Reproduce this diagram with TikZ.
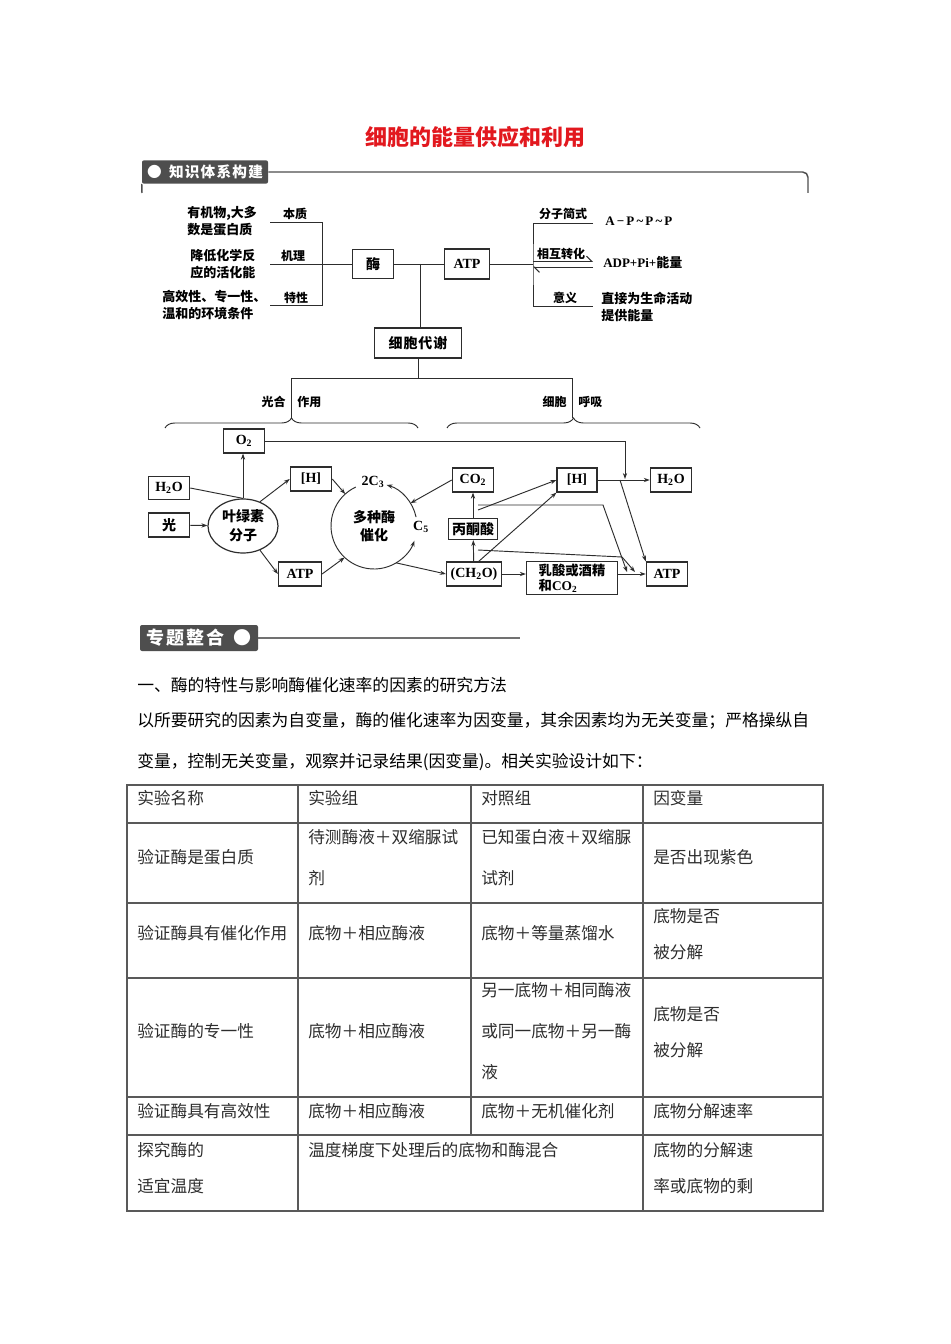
\documentclass[tikz,border=0pt]{standalone}
\usepackage{fontspec}
\setmainfont{Noto Sans CJK SC}
\newfontfamily\lat{Liberation Serif}
\usetikzlibrary{arrows.meta,shapes.geometric,decorations.pathreplacing}
\definecolor{titlered}{RGB}{226,24,30}
\definecolor{tabgray}{RGB}{78,78,78}
\definecolor{ink}{RGB}{45,45,45}

\begin{document}
\begin{tikzpicture}[x=0.75pt,y=-0.75pt,>={Stealth[length=4.5pt,width=3.2pt]}]
  \tikzstyle{B}=[draw=ink,line width=0.9pt,inner sep=0pt,font=\fontsize{10.5}{12}\selectfont\bfseries]
  \tikzstyle{sb}=[B,minimum width=31pt,minimum height=18pt]
  \tikzstyle{T}=[inner sep=0pt,font=\fontsize{9.75}{12.75}\selectfont\bfseries]
  \tikzstyle{L}=[inner sep=0pt,font=\fontsize{9}{11}\selectfont\bfseries]
  \tikzstyle{C}=[draw=ink,line width=0.7pt]
  \tikzstyle{hdr}=[fill=tabgray,text=white,inner sep=0pt,rounded corners=1.5pt]
  \tikzstyle{P}=[anchor=west,inner sep=0pt,font=\fontsize{12.6}{15}\selectfont]
  \tikzstyle{G}=[draw=black!65,line width=1pt]
  \tikzstyle{cell}=[anchor=west,inner sep=0pt,text=ink,align=left,font=\fontsize{12.5}{30.75}\selectfont]
  \tikzstyle{cellb}=[cell,font=\fontsize{12.5}{27}\selectfont]

  \fill[white] (0,0) rectangle (950,1344);
  \useasboundingbox (0,0) rectangle (950,1344);

  % title and first header
  \node[font=\fontsize{16.5}{20}\selectfont\bfseries,text=titlered] (title) at (475,137) {细胞的能量供应和利用};
  \node[hdr,minimum width=94.5pt,minimum height=17.5pt,font=\fontsize{11}{13}\selectfont\bfseries] (kb) at (205,172) {●\enspace\addfontfeature{LetterSpace=8}知识体系构建};
  \draw[draw=tabgray,line width=1.1pt,rounded corners=4pt] (kb.east) -- (808,172) -- (808,193);
  \draw[draw=tabgray,line width=1.1pt] (kb.south west) -- (142,193);

  % enzyme and ATP
  \node[T,anchor=west,align=left] (bz) at (187,221) {有机物,大多\\数是蛋白质};
  \node[T,anchor=west,align=left] (jl) at (190,264.5) {降低化学反\\应的活化能};
  \node[T,anchor=west,align=left] (tx) at (162,305.5) {高效性、专一性、\\温和的环境条件};
  \node[L] (l1) at (295,214) {本质};
  \node[L] (l2) at (293,256) {机理};
  \node[L] (l3) at (296,298) {特性};
  \coordinate (a1) at (270,222);
  \coordinate (a2) at (270,264);
  \coordinate (a3) at (270,305);
  \coordinate (a0) at (322,264);
  \node[B,minimum width=30.75pt,minimum height=21.75pt] (mei) at (373,264) {酶};
  \node[B,minimum width=33.75pt,minimum height=22.5pt] (atp1) at (467,264) {\lat ATP};
  \draw[C] (a1) -| (a0 |- a3) -- (a3);
  \draw[C] (a2) -- (mei.west);
  \draw[C] (mei) -- (atp1);
  \coordinate (j1) at (420,264);
  \node[B,minimum width=65.25pt,minimum height=22.5pt] (dx) at (418,343) {\addfontfeature{LetterSpace=6}细胞代谢};
  \draw[C] (j1) -- (j1 |- dx.north);

  \coordinate (r0) at (533,264);
  \coordinate (r1) at (593,223);
  \coordinate (r3) at (593,306);
  \coordinate (r2a) at (593,261.5);
  \coordinate (r2b) at (593,267);
  \draw[C] (atp1) -- (r0);
  \draw[C] (r1) -| (r0) |- (r3);
  \draw[C,-{Straight Barb[left,length=4pt]}] (r0 |- r2a) -- (r2a);
  \draw[C,-{Straight Barb[left,length=4pt]}] (r2b) -- (r0 |- r2b);
  \node[L] (fz) at (563,214) {分子简式};
  \node[L] (hz) at (561,254) {相互转化};
  \node[L] (yy) at (565,298) {意义};
  \node[T,anchor=west] (ap) at (605,221) {\lat A\,−\,P\,\textasciitilde\,P\,\textasciitilde\,P};
  \node[T,anchor=west] (adp) at (603,263) {{\lat ADP+Pi+}能量};
  \node[T,anchor=west,align=left] (yi) at (601,307) {直接为生命活动\\提供能量};

  % metabolism split
  \coordinate (d1) at (418,378);
  \coordinate (g1) at (291,378);
  \coordinate (h1) at (572,378);
  \coordinate (g2) at (291,418);
  \coordinate (h2) at (572,418);
  \draw[C] (dx.south) -- (d1);
  \draw[C] (g2) -- (g1) -- (h1) -- (h2);
  \coordinate (bl1) at (165,428);
  \coordinate (bl2) at (418,428);
  \coordinate (br1) at (447,428);
  \coordinate (br2) at (700,428);
  \draw[C,decorate,decoration={brace,amplitude=7.5pt}] (bl1) -- (bl2);
  \draw[C,decorate,decoration={brace,amplitude=7.5pt}] (br1) -- (br2);
  \node[L,anchor=east] (gh) at (286,402) {光合};
  \node[L,anchor=west] (zy) at (297,402) {作用};
  \node[L,anchor=east] (xb) at (567,402) {细胞};
  \node[L,anchor=west] (hx) at (578,402) {呼吸};

  % photosynthesis
  \node[sb] (o2) at (244,441) {\lat O\textsubscript{2}};
  \node[sb,minimum height=17.25pt] (w1) at (169,488) {\lat H\textsubscript{2}O};
  \node[sb] (gu) at (169,525) {光};
  \node[draw=ink,line width=0.9pt,ellipse,minimum width=52.5pt,minimum height=40.5pt,inner sep=0pt,align=center,font=\fontsize{10.5}{14}\selectfont\bfseries] (yl) at (243,526) {叶绿素\\分子};
  \node[sb] (h1b) at (311,479) {\lat [H]};
  \node[sb,minimum width=32.25pt] (atp2) at (300,574) {\lat ATP};
  \node[circle,minimum size=64.5pt,inner sep=0pt,outer sep=0pt,align=center,font=\fontsize{10.5}{14}\selectfont\bfseries] (cyc) at (374,526) {多种酶\\催化};
  \node[T,font=\fontsize{10.5}{12}\selectfont\bfseries] (c3) at (373,482) {\lat 2C\textsubscript{3}};
  \node[T,font=\fontsize{10.5}{12}\selectfont\bfseries] (c5) at (421,527) {\lat C\textsubscript{5}};

  \draw[C,->] (yl.north) -- (yl.north |- o2.south);
  \draw[C] (w1.east) -- (yl.north);
  \draw[C,->] (gu) -- (yl);
  \draw[C,->] (yl.55) -- (h1b.west);
  \draw[C,->] (yl.-55) -- (atp2.west);
  \draw[C,->] (h1b.east) -- (cyc.132);
  \draw[C,->] (atp2.east) -- (cyc.227);
  \draw[C,->] (cyc.115) arc[start angle=115,end angle=340,radius=32.25pt];
  \draw[C,->] (cyc.12) arc[start angle=12,end angle=73,radius=32.25pt];

  % respiration
  \node[sb] (co2) at (473,480) {\lat CO\textsubscript{2}};
  \node[sb,minimum width=36.75pt,minimum height=15.75pt] (bt) at (473,529) {丙酮酸};
  \node[sb,minimum width=41.25pt] (ch) at (474,574) {\lat (CH\textsubscript{2}O)};
  \node[B,minimum width=68.25pt,minimum height=24.75pt,align=left,font=\fontsize{10}{11.5}\selectfont\bfseries] (rs) at (572,578) {乳酸或酒精\\和{\lat CO\textsubscript{2}}};
  \node[sb] (atp3) at (667,574) {\lat ATP};
  \node[sb,minimum width=30pt] (h2b) at (577,480) {\lat [H]};
  \node[sb] (w2) at (671,480) {\lat H\textsubscript{2}O};

  \coordinate (s1) at (478,562);
  \coordinate (s2) at (478,510);
  \coordinate (s3) at (478,505);
  \coordinate (s4) at (478,550);
  \coordinate (k1) at (603,505);
  \coordinate (k2) at (622,557);
  \coordinate (e1) at (627,572);
  \coordinate (e2) at (635,572);
  \coordinate (q1) at (620,480);
  \coordinate (o2t) at (625,479);

  \draw[C,->] (co2.west) -- (cyc.32);
  \draw[C,->] (cyc.301) -- (ch.west);
  \draw[C,->] (ch) -- (bt);
  \draw[C,->] (bt) -- (co2);
  \draw[C,->] (ch.east) -- (ch.east -| rs.west);
  \draw[C,->] (atp3.west -| rs.east) -- (atp3.west);
  \draw[C,->] (h2b) -- (w2);
  \draw[C,->] (s1) -- (h2b.south west);
  \draw[C,->] (s2) -- (h2b.west);
  \draw[C,->] (s3) -- (k1) -- (e1);
  \draw[C,->] (s4) -- (k2) -- (e2);
  \draw[C,->] (q1) -- (atp3.north west);
  \draw[C,->] (o2.east) -- (o2.east -| o2t) -- (o2t);

  % second header and text
  \node[hdr,minimum width=88.5pt,minimum height=19.5pt,font=\fontsize{13.5}{15}\selectfont\bfseries] (zt) at (199,638) {\addfontfeature{LetterSpace=12}专题整合\enspace●};
  \draw[draw=tabgray!80,line width=1pt] (zt.east) -- (520,638);
  \node[P] (p1) at (137,685) {一、酶的特性与影响酶催化速率的因素的研究方法};
  \node[P] (p2) at (137,721) {以所要研究的因素为自变量，酶的催化速率为因变量，其余因素均为无关变量；严格操纵自};
  \node[P] (p3) at (137,762) {变量，控制无关变量，观察并记录结果(因变量)。相关实验设计如下：};

  % table
  \draw[G] (127,785) rectangle (823,1211);
  \foreach \y in {823,903,978,1097,1135}
    \draw[G] (127,\y) -- (823,\y);
  \draw[G] (298,785) -- (298,1211);
  \draw[G] (471,785) -- (471,1135);
  \draw[G] (643,785) -- (643,1211);

  \node[cell] (c11) at (137,798) {实验名称};
  \node[cell] (c12) at (308,798) {实验组};
  \node[cell] (c13) at (481,798) {对照组};
  \node[cell] (c14) at (653,798) {因变量};

  \node[cell] (c21) at (137,857) {验证酶是蛋白质};
  \node[cell] (c22) at (308,857.5) {待测酶液＋双缩脲试\\剂};
  \node[cell] (c23) at (481,857.5) {已知蛋白液＋双缩脲\\试剂};
  \node[cell] (c24) at (653,857) {是否出现紫色};

  \node[cell] (c31) at (137,933) {验证酶具有催化作用};
  \node[cell] (c32) at (308,933) {底物＋相应酶液};
  \node[cell] (c33) at (481,933) {底物＋等量蒸馏水};
  \node[cellb] (c34) at (653,934) {底物是否\\被分解};

  \node[cell] (c41) at (137,1031) {验证酶的专一性};
  \node[cell] (c42) at (308,1031) {底物＋相应酶液};
  \node[cell] (c43) at (481,1031.5) {另一底物＋相同酶液\\或同一底物＋另一酶\\液};
  \node[cellb] (c44) at (653,1032) {底物是否\\被分解};

  \node[cell] (c51) at (137,1111) {验证酶具有高效性};
  \node[cell] (c52) at (308,1111) {底物＋相应酶液};
  \node[cell] (c53) at (481,1111) {底物＋无机催化剂};
  \node[cell] (c54) at (653,1111) {底物分解速率};

  \node[cellb] (c61) at (137,1168) {探究酶的\\适宜温度};
  \node[cell] (c62) at (308,1150) {温度梯度下处理后的底物和酶混合};
  \node[cellb] (c64) at (653,1168) {底物的分解速\\率或底物的剩};
\end{tikzpicture}
\end{document}
